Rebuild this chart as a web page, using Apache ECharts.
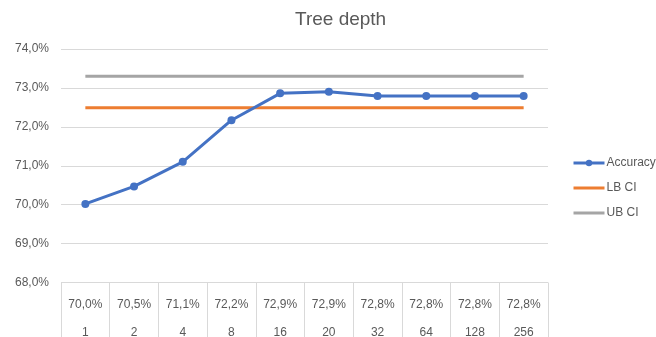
<!DOCTYPE html>
<html>
<head>
<meta charset="utf-8">
<script src="https://cdn.jsdelivr.net/npm/echarts@6/dist/echarts.min.js"></script>
<style>html,body{margin:0;padding:0;background:#fff;}#c{width:656px;height:337px;}</style>
</head>
<body>
<div id="c"></div>
<script>
var categories = ['1', '2', '4', '8', '16', '20', '32', '64', '128', '256'];
var accuracy = [70.02, 70.47, 71.1, 72.17, 72.86, 72.9, 72.79, 72.79, 72.79, 72.79];
var lbCI = [72.49, 72.49, 72.49, 72.49, 72.49, 72.49, 72.49, 72.49, 72.49, 72.49];
var ubCI = [73.3, 73.3, 73.3, 73.3, 73.3, 73.3, 73.3, 73.3, 73.3, 73.3];
var yTicks = { min: 68, max: 74, interval: 1 };

function pct(v) { return v.toFixed(1).replace('.', ',') + '%'; }

var FONT = 'Liberation Sans';
var TXT = '#595959';
var chart = echarts.init(document.getElementById('c'), null, { renderer: 'canvas' });
chart.setOption({
  backgroundColor: '#ffffff',
  animation: false,
  title: {
    text: 'Tree depth', left: 290, top: 5,
    textStyle: { fontFamily: FONT, fontSize: 19, fontWeight: 'normal', color: TXT }
  },
  legend: {
    orient: 'vertical', left: 572, top: 157, itemGap: 13, padding: 0,
    itemWidth: 31, itemHeight: 8,
    lineStyle: { width: 3 },
    textStyle: { fontFamily: FONT, fontSize: 12, color: TXT, padding: [0, 0, 0, -3] },
    data: [
      { name: 'Accuracy' },
      { name: 'LB CI', itemStyle: { opacity: 0 } },
      { name: 'UB CI', itemStyle: { opacity: 0 } }
    ]
  },
  grid: [
    { left: 61, right: 108, top: 49, bottom: 54.5, containLabel: false },
    { left: 61, right: 108, top: 282.5, bottom: -20, containLabel: false }
  ],
  xAxis: [
    {
      gridIndex: 0, type: 'category', data: categories, boundaryGap: true,
      axisLine: { show: false }, axisTick: { show: false }, axisLabel: { show: false },
      splitLine: { show: false }
    },
    {
      gridIndex: 1, type: 'category', data: categories, boundaryGap: true, position: 'top',
      axisLine: { show: true, lineStyle: { color: '#d9d9d9', width: 1 } },
      axisTick: { show: false },
      splitLine: { show: true, showMinLine: true, showMaxLine: true, lineStyle: { color: '#d9d9d9', width: 1 } },
      axisLabel: {
        show: true, inside: true, margin: 8, interval: 0,
        fontFamily: FONT, fontSize: 12, color: TXT, lineHeight: 28, align: 'center',
        formatter: function (val, idx) { return pct(accuracy[idx]) + '\n' + val; }
      }
    }
  ],
  yAxis: [
    {
      gridIndex: 0, type: 'value', min: yTicks.min, max: yTicks.max, interval: yTicks.interval,
      axisLine: { show: false }, axisTick: { show: false },
      axisLabel: { fontFamily: FONT, fontSize: 12, color: TXT, margin: 12,
        formatter: function (v) { return v.toFixed(1).replace('.', ',') + '%'; } },
      splitLine: { show: true, lineStyle: { color: '#d9d9d9', width: 1 } }
    },
    {
      gridIndex: 1, type: 'value', min: 0, max: 1,
      axisLine: { show: false }, axisTick: { show: false }, axisLabel: { show: false },
      splitLine: { show: false }
    }
  ],
  series: [
    {
      name: 'Accuracy', type: 'line', data: accuracy, xAxisIndex: 0, yAxisIndex: 0,
      symbol: 'circle', symbolSize: 8, z: 5,
      lineStyle: { color: '#4472C4', width: 3 }, itemStyle: { color: '#4472C4' }
    },
    {
      name: 'LB CI', type: 'line', data: lbCI, xAxisIndex: 0, yAxisIndex: 0,
      symbol: 'none', showSymbol: false,
      lineStyle: { color: '#ED7D31', width: 3 }, itemStyle: { color: '#ED7D31' }
    },
    {
      name: 'UB CI', type: 'line', data: ubCI, xAxisIndex: 0, yAxisIndex: 0,
      symbol: 'none', showSymbol: false,
      lineStyle: { color: '#A5A5A5', width: 3 }, itemStyle: { color: '#A5A5A5' }
    }
  ]
});
</script>
</body>
</html>
